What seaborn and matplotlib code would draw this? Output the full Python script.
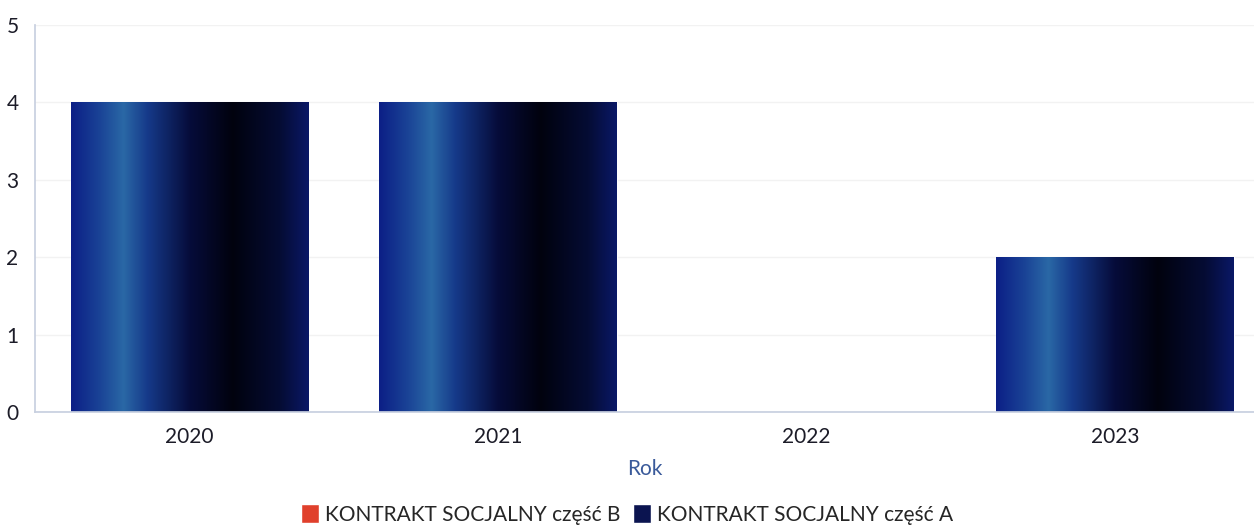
import numpy as np
import pandas as pd
import matplotlib
matplotlib.use("Agg")
import matplotlib.pyplot as plt
import seaborn as sns
from matplotlib.colors import LinearSegmentedColormap
from matplotlib.patches import Patch

# Datos
lata = ["2020", "2021", "2022", "2023"]
czesc_a = [4, 4, 0, 2]
czesc_b = [0, 0, 0, 0]

df = pd.DataFrame({
    "Rok": lata * 2,
    "Liczba": czesc_b + czesc_a,
    "Seria": ["KONTRAKT SOCJALNY część B"] * 4 + ["KONTRAKT SOCJALNY część A"] * 4,
})

sns.set_theme(style="white")
plt.rcParams["font.family"] = ["Lato", "DejaVu Sans"]

fig = plt.figure(figsize=(12.54, 5.25), dpi=100)
ax = fig.add_axes([0.028, 0.215, 0.972, 0.738])

# Część A jako główne słupki, część B (zerowa) nakładana na nie
sns.barplot(data=df[df["Seria"].str.endswith("A")], x="Rok", y="Liczba",
            color="#0b1450", width=0.77, ax=ax, errorbar=None)
sns.barplot(data=df[df["Seria"].str.endswith("B")], x="Rok", y="Liczba",
            color="#d83a2a", width=0.77, ax=ax, errorbar=None)

# gradient poziomy na słupkach
grad = LinearSegmentedColormap.from_list("kontrakt", [
    (0.0, "#0c1f86"), (0.12, "#1a4396"), (0.22, "#2a68a6"), (0.32, "#163a8a"),
    (0.5, "#060c3a"), (0.68, "#01020e"), (0.88, "#050c34"), (1.0, "#0a1866")])
img = np.linspace(0, 1, 256).reshape(1, -1)
for bar in list(ax.patches):
    h = bar.get_height()
    if h <= 0:
        continue
    x0 = bar.get_x()
    w = bar.get_width()
    bar.set_facecolor("none")
    im = ax.imshow(img, cmap=grad, aspect="auto", extent=[x0, x0 + w, 0, h],
                   zorder=bar.get_zorder())
    im.set_clip_path(bar)

ax.set_xlim(-0.5, 3.45)
ax.set_ylim(0, 5)
ax.set_yticks(range(0, 6))
ax.yaxis.grid(True, color="#f2f2f2", linewidth=1)
ax.set_axisbelow(True)
for side in ["top", "right"]:
    ax.spines[side].set_visible(False)
ax.spines["left"].set_color("#c8d0e0")
ax.spines["bottom"].set_color("#c8d0e0")
ax.tick_params(axis="both", length=0, labelsize=15, colors="#1c1c28")
ax.tick_params(axis="y", pad=12)
ax.tick_params(axis="x", pad=11)
ax.set_ylabel("")
ax.set_xlabel("Rok", fontsize=15, color="#3a5a9a", labelpad=8)

uchwyty = [Patch(facecolor="#e0402c", label="KONTRAKT SOCJALNY część B"),
           Patch(facecolor="#0b1450", label="KONTRAKT SOCJALNY część A")]
fig.legend(handles=uchwyty, loc="lower center", ncol=2, frameon=False,
           fontsize=15, handlelength=0.85, handleheight=1.0, handletextpad=0.3,
           columnspacing=0.6, bbox_to_anchor=(0.5, -0.035))

fig.savefig("out.png", dpi=100)
